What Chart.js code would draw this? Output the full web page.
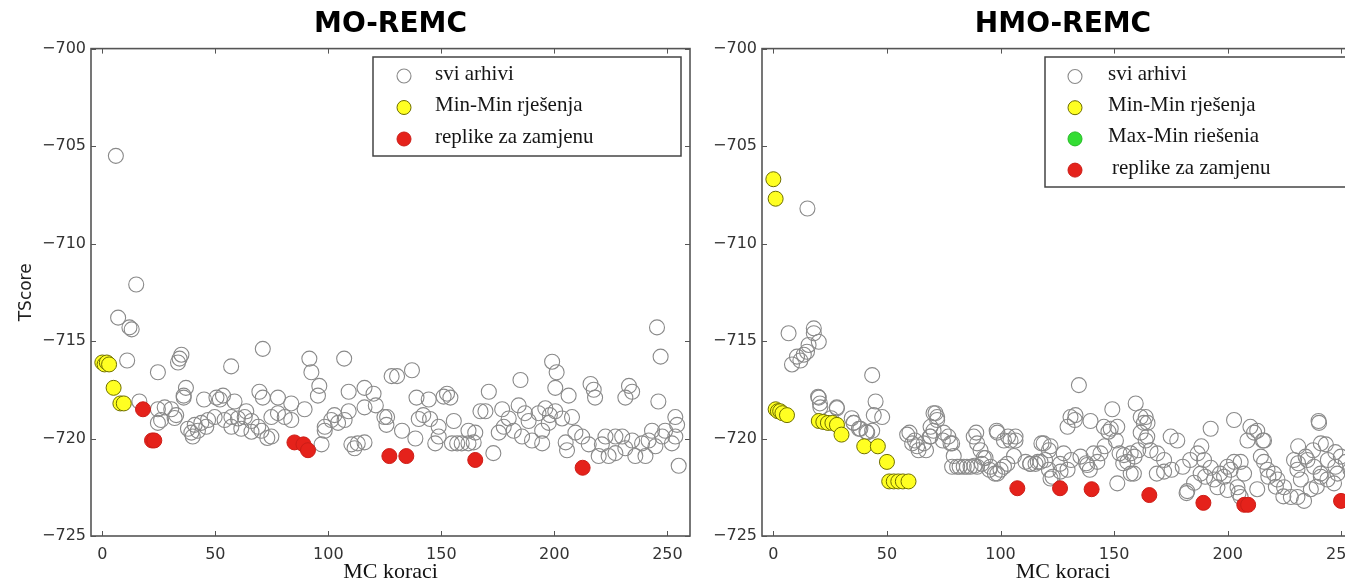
<!DOCTYPE html>
<html>
<head>
<meta charset="utf-8">
<script src="https://cdn.jsdelivr.net/npm/chart.js@4.4.1/dist/chart.umd.min.js"></script>
<style>
html,body{margin:0;padding:0;overflow:hidden;background:#fff;width:1345px;height:583px;}
#c1{position:absolute;left:0;top:0;}
#c2{position:absolute;left:690px;top:0;}
</style>
</head>
<body>
<canvas id="c1" width="692" height="583"></canvas>
<canvas id="c2" width="700" height="583"></canvas>
<script>
// ---------- data ----------
const xTicks = [0, 50, 100, 150, 200, 250];
const yTicks = [-725, -720, -715, -710, -705, -700];
const legendLabelsLeft = ['svi arhivi', 'Min-Min rje\u0161enja', 'replike za zamjenu'];
const legendLabelsRight = ['svi arhivi', 'Min-Min rje\u0161enja', 'Max-Min rie\u0161enia', 'replike za zamjenu'];

// MO-REMC: all archives (gray open circles)
const leftAllX = [6,15,7,12,13,11,24.6,34.2,35,33.5,57,71,91.6,92.5,107,128,96,95.4,109,116,120,37,36,36,45,50.5,53.4,52,58.5,63.7,69.5,71,77.7,83.6,89.5,102.7,109,116,121,124.8,125.7,
24.6,27.6,30.5,32.7,26,32,24.6,37.9,40.9,43.8,46.8,49.7,39.4,42.3,46,54.1,57.1,60,63,66,69,57.1,61.5,66,70.4,74.8,77.7,80.7,83.6,74.8,98.4,101.3,104.3,107.2,98.4,97,110.2,113,116,111.6,16.4,40,73,
245.4,247,130.4,137,185,199,201,200.4,206.3,216,217.4,218,233,234.4,231.4,246,253.5,254.3,255,171,152.5,151,154,139,144.4,142,145,140,126,132.6,138.5,147.3,148.8,155.5,154.7,157,159,162,164.3,165,167.3,169.5,173,176.9,179.8,177.6,182,175.4,184.2,187,188.6,185.7,190.1,193,196,198,200.4,203.4,194.6,197.5,194.6,207.8,205,205.6,209.3,212.3,215.2,219.6,224,227,222.6,227,230,234.4,231.4,221,238.8,241.7,244.7,240.3,235.8,243.2,247.7,252,249,253.5,148.8,162];
const leftAllY = [-705.5,-712.1,-713.8,-714.3,-714.4,-716.0,-716.6,-715.9,-715.7,-716.1,-716.3,-715.4,-715.9,-716.6,-715.9,-716.8,-717.3,-717.8,-717.6,-717.4,-717.7,-717.4,-717.8,-717.9,-718.0,-717.9,-717.8,-718.0,-718.1,-718.6,-717.6,-717.9,-717.9,-718.2,-718.5,-718.8,-718.6,-718.4,-718.3,-718.9,-719.3,
-718.5,-718.4,-718.5,-718.8,-719.05,-718.95,-719.2,-719.5,-719.3,-719.2,-719.05,-718.9,-719.7,-719.6,-719.4,-719.05,-718.9,-718.97,-718.9,-719.1,-719.4,-719.4,-719.5,-719.65,-719.6,-718.9,-718.7,-718.9,-719.05,-719.9,-719.4,-719.05,-719.2,-719.05,-719.6,-720.3,-720.3,-720.25,-720.2,-720.5,-718.1,-719.9,-719.97,
-714.3,-715.8,-716.8,-716.5,-717.0,-716.06,-716.6,-717.4,-717.8,-717.2,-717.5,-717.9,-717.3,-717.6,-717.9,-718.1,-718.9,-719.3,-721.4,-717.6,-717.7,-717.85,-717.9,-717.9,-718.0,-718.8,-719,-719,-718.9,-719.6,-720.0,-720.25,-719.9,-719.1,-720.25,-720.25,-720.25,-720.25,-720.2,-719.7,-718.6,-718.6,-720.75,-718.5,-718.97,-719.4,-719.6,-719.7,-718.3,-718.7,-719.1,-719.9,-720.1,-718.7,-718.45,-718.8,-718.6,-718.97,-719.6,-719.2,-720.25,-718.9,-720.2,-720.6,-719.7,-719.9,-720.3,-720.9,-720.9,-720.75,-719.9,-719.9,-719.9,-720.1,-720.5,-720.3,-720.25,-720.1,-720.4,-720.9,-720.9,-719.6,-719.9,-720.25,-719.6,-719.9,-719.4,-719.6];
// MO-REMC: Min-Min solutions (yellow)
const leftMinX = [0, 1, 2, 3, 5, 8, 9.5];
const leftMinY = [-716.1, -716.2, -716.1, -716.2, -717.4, -718.2, -718.2];
// MO-REMC: replicas for exchange (red)
const leftSwapX = [18, 22, 23, 85, 89, 91, 127, 134.5, 165, 212.5];
const leftSwapY = [-718.5, -720.1, -720.1, -720.2, -720.3, -720.6, -720.9, -720.9, -721.1, -721.5];

// HMO-REMC: all archives (gray open circles)
const rightAllX = [15,6.7,8.2,10.4,13.4,14.8,11.9,17.8,17.8,20,15.5,20,20.7,28,43.5,45,44.2,47.9,35.4,38.3,41.3,43.5,
58.9,61.1,63.3,66.2,69.2,71.4,72.1,69.2,75,78,79.4,80.9,83.8,86.8,89.7,88.2,89.7,91.2,92.6,95.6,98.6,101.5,98.6,101.5,104.4,106.6,103,105.9,
19.7,20.5,27.9,25.4,34.5,35.3,37.7,41,59.9,62.3,63.9,67.2,68.9,70.5,72.1,70.5,74.6,77,78.7,78.7,82,85.2,88.5,91.8,95.1,97.5,100,89.3,93.4,98.3,103.3,
134.5,159.5,149.2,130.8,133,139.6,145.5,148.5,151.4,161.7,163.1,161.7,164.6,202.8,192.5,210,211.6,208.7,216,240.2,241,243.2,106.6,119,122,113,111,115.4,117.6,122,126.4,135.2,138.2,142.6,144,151.4,154.3,155.8,157.3,158.7,166,169,172,172,174.9,177.8,
182.2,185.2,188.1,189.6,192.5,194,195.5,198.4,201.3,202.8,205.7,207.2,204.3,205.7,213,
216,217.5,220.4,221.9,224.8,227.8,230.7,233.6,236.6,232.2,230.7,229.2,235.1,238,241,243.9,246.8,248.3,249.8,
113.1,116.4,119.6,121.3,118,122.9,121.3,126.2,127.8,129.5,131.1,137.7,139.3,141,145.8,150.8,152.4,154,157.3,159,160.6,163.9,168.8,175.3,180.2,183.5,186.8,188.4,181.9,190.1,196.6,199.9,199.9,204.8,214.6,224.5,221.2,217.9,231,234.3,237.6,244.1,247.4,240.9,239.2,213,215.5,231,247.4,240,129.5,132.7,147.5,164.7,163.9,252,254];
const rightAllY = [-708.2,-714.6,-716.2,-715.8,-715.7,-715.55,-716.0,-714.35,-714.6,-715.04,-715.2,-717.9,-718.4,-718.45,-716.75,-718.1,-718.8,-718.9,-719.2,-719.5,-719.7,-719.6,
-719.8,-720.25,-720.4,-720.25,-719.9,-718.7,-719.05,-719.4,-719.7,-720.25,-720.9,-721.45,-721.45,-721.45,-721.45,-719.9,-720.25,-720.6,-721,-721.45,-721.8,-721.45,-719.7,-720.1,-720.1,-719.9,-721.3,-720.9,
-717.86,-718.2,-718.4,-718.96,-718.96,-719.2,-719.5,-719.65,-719.7,-720.1,-720.6,-720.6,-719.9,-719.6,-718.9,-718.7,-720.1,-719.9,-720.25,-721.45,-721.45,-721.45,-721.4,-721.3,-721.6,-721.8,-721.6,-719.7,-721,-719.6,-719.9,
-717.26,-718.2,-718.5,-718.9,-718.8,-719.1,-719.4,-719.5,-719.4,-718.9,-719.2,-719.7,-719.9,-719.05,-719.5,-719.4,-719.7,-720.1,-720.1,-719.2,-720.25,-720.3,-720.1,-720.25,-720.4,-721.3,-721.2,-721.3,-721.2,-722.05,-721.7,-720.93,-721.36,-721.2,-720.76,-722.3,-720.85,-721.2,-720.76,-721.8,-720.6,-720.76,-721.1,-721.7,-719.9,-720.1,
-722.7,-722.27,-721.8,-721.1,-721.5,-722.1,-722.5,-721.96,-721.6,-721.2,-721.2,-721.8,-722.5,-723,-722.6,
-721.2,-721.6,-721.8,-722.1,-722.5,-723,-723,-723.2,-722.6,-722.1,-721.6,-721.1,-721.1,-721.45,-721.96,-722.1,-722.3,-721.8,-720.93,
-721.3,-721.2,-721.1,-720.6,-720.25,-721.96,-721.6,-721.3,-720.76,-721.6,-721.1,-721.27,-721.6,-720.76,-720.4,-720.1,-720.76,-721.27,-721.8,-720.93,-720.6,-720.1,-721.8,-721.6,-721.45,-721.1,-720.76,-720.4,-722.8,-721.96,-721.8,-721.45,-722.64,-722.8,-720.93,-722.97,-722.47,-721.96,-721.27,-720.93,-720.6,-721.1,-721.45,-721.8,-722.47,-719.6,-720.1,-720.4,-720.7,-719.1,-719.4,-719.05,-719.65,-719.2,-718.9,-721.2,-721.6];
// HMO-REMC: Min-Min solutions (yellow)
const rightMinX = [0, 1, 1, 2, 3, 4, 6, 20, 22, 24, 26, 28, 30, 40, 46, 50, 51, 53, 55, 57, 59.5];
const rightMinY = [-706.7, -707.7, -718.5, -718.6, -718.6, -718.7, -718.8, -719.1, -719.15, -719.2, -719.2, -719.3, -719.8, -720.4, -720.4, -721.2, -722.2, -722.2, -722.2, -722.2, -722.2];
// HMO-REMC: Max-Min solutions (green, none visible)
const rightMaxX = [];
const rightMaxY = [];
// HMO-REMC: replicas for exchange (red)
const rightSwapX = [107.4, 126.2, 140.1, 165.5, 189.3, 207.3, 209, 249.9];
const rightSwapY = [-722.55, -722.55, -722.6, -722.9, -723.3, -723.4, -723.4, -723.2];

// ---------- helpers ----------
const pts = (xs, ys) => xs.map((x, i) => ({x: x, y: ys[i]}));
const fmt = v => (v < 0 ? '\u2212' + Math.abs(v) : String(v));

const STY = {
  gray:   {bg: 'rgba(255,255,255,0)', bd: '#8a8a8a', bw: 1.1},
  yellow: {bg: '#ffff22', bd: '#6e6e00', bw: 1},
  green:  {bg: '#33dd33', bd: '#22bb22', bw: 1},
  red:    {bg: '#e5221b', bd: '#cc1d17', bw: 1}
};

function ds(label, xs, ys, st, order) {
  return {label: label, data: pts(xs, ys), backgroundColor: st.bg, borderColor: st.bd,
    borderWidth: st.bw, pointRadius: 7.5, pointHoverRadius: 7.5, order: order, showLine: false};
}

const frameTicks = {
  id: 'frameTicks',
  afterDatasetsDraw(chart) {
    const {ctx, chartArea: a, scales} = chart;
    ctx.save();
    ctx.strokeStyle = '#555';
    ctx.lineWidth = 1.6;
    ctx.strokeRect(a.left, a.top, a.right - a.left, a.bottom - a.top);
    ctx.lineWidth = 1;
    ctx.beginPath();
    const L = 5;
    scales.x.ticks.forEach(t => {
      const px = Math.round(scales.x.getPixelForValue(t.value)) + 0.5;
      ctx.moveTo(px, a.bottom); ctx.lineTo(px, a.bottom - L);
      ctx.moveTo(px, a.top); ctx.lineTo(px, a.top + L);
    });
    scales.y.ticks.forEach(t => {
      const py = Math.round(scales.y.getPixelForValue(t.value)) + 0.5;
      ctx.moveTo(a.left, py); ctx.lineTo(a.left + L, py);
      ctx.moveTo(a.right, py); ctx.lineTo(a.right - L, py);
    });
    ctx.stroke();
    ctx.restore();
  }
};

const legendBox = {
  id: 'legendBox',
  afterDraw(chart, args, o) {
    const ctx = chart.ctx;
    ctx.save();
    ctx.fillStyle = '#fff';
    ctx.fillRect(o.x, o.y, o.w, o.h);
    ctx.strokeStyle = '#444';
    ctx.lineWidth = 1.5;
    ctx.strokeRect(o.x, o.y, o.w, o.h);
    ctx.font = o.font;
    ctx.textBaseline = 'middle';
    ctx.textAlign = 'left';
    chart.data.datasets.forEach((d, i) => {
      const ry = o.y + o.first + i * o.gap;
      ctx.beginPath();
      ctx.arc(o.x + o.markerX, ry, 7, 0, Math.PI * 2);
      ctx.fillStyle = d.backgroundColor;
      ctx.fill();
      ctx.lineWidth = d.borderWidth;
      ctx.strokeStyle = d.borderColor;
      ctx.stroke();
      ctx.fillStyle = '#151515';
      ctx.fillText(d.label, o.x + o.textX + (o.dx[i] || 0), ry - 2);
    });
    ctx.restore();
  }
};

function makeOptions(title, yTitle, padding, yWidth, legendOpts) {
  return {
    responsive: false,
    animation: false,
    events: [],
    layout: {padding: padding, autoPadding: false},
    plugins: {
      legend: {display: false},
      tooltip: {enabled: false},
      title: {display: true, text: title, fullSize: false, color: '#000',
        font: {family: 'DejaVu Sans', size: 28, weight: 'bold', lineHeight: 1.2},
        padding: {top: 8, bottom: 7}},
      legendBox: legendOpts
    },
    scales: {
      x: {
        type: 'linear', min: -5, max: 260,
        afterBuildTicks: s => { s.ticks = xTicks.map(v => ({value: v})); },
        afterFit: s => { s.height = 47; s.paddingLeft = 0; s.paddingRight = 0; },
        grid: {display: false, drawTicks: false},
        border: {display: false},
        ticks: {padding: 9, color: '#333', font: {family: 'DejaVu Sans', size: 16}, callback: v => fmt(v), maxRotation: 0},
        title: {display: true, text: 'MC koraci', color: '#111',
          font: {family: 'Liberation Serif', size: 22, lineHeight: 1}, padding: {top: 0, bottom: 0}}
      },
      y: {
        type: 'linear', min: -725, max: -700,
        afterBuildTicks: s => { s.ticks = yTicks.map(v => ({value: v})); },
        afterFit: s => { s.width = yWidth; s.paddingTop = 0; s.paddingBottom = 0; },
        grid: {display: false, drawTicks: false},
        border: {display: false},
        ticks: {padding: 5, color: '#333', font: {family: 'DejaVu Sans', size: 16}, callback: v => fmt(v)},
        title: {display: !!yTitle, text: yTitle, color: '#222',
          font: {family: 'DejaVu Sans', size: 17}, padding: {top: 4, bottom: 0}}
      }
    }
  };
}

new Chart(document.getElementById('c1'), {
  type: 'scatter',
  data: {datasets: [
    ds(legendLabelsLeft[0], leftAllX, leftAllY, STY.gray, 3),
    ds(legendLabelsLeft[1], leftMinX, leftMinY, STY.yellow, 2),
    ds(legendLabelsLeft[2], leftSwapX, leftSwapY, STY.red, 1)
  ]},
  options: makeOptions('MO-REMC', 'TScore', {left: 12, right: 2, top: 0, bottom: 0}, 79,
    {x: 373, y: 57, w: 308, h: 99, first: 19, gap: 31.5, markerX: 31, textX: 62, dx: [0, 0, 0],
     font: '21px "Liberation Serif"'}),
  plugins: [frameTicks, legendBox]
});

new Chart(document.getElementById('c2'), {
  type: 'scatter',
  data: {datasets: [
    ds(legendLabelsRight[0], rightAllX, rightAllY, STY.gray, 4),
    ds(legendLabelsRight[1], rightMinX, rightMinY, STY.yellow, 3),
    ds(legendLabelsRight[2], rightMaxX, rightMaxY, STY.green, 2),
    ds(legendLabelsRight[3], rightSwapX, rightSwapY, STY.red, 1)
  ]},
  options: makeOptions('HMO-REMC', '', {left: 0, right: 26, top: 0, bottom: 0}, 72,
    {x: 355, y: 57, w: 400, h: 130, first: 19.5, gap: 31.2, markerX: 30, textX: 63, dx: [0, 0, 0, 4],
     font: '21px "Liberation Serif"'}),
  plugins: [frameTicks, legendBox]
});
</script>
</body>
</html>
